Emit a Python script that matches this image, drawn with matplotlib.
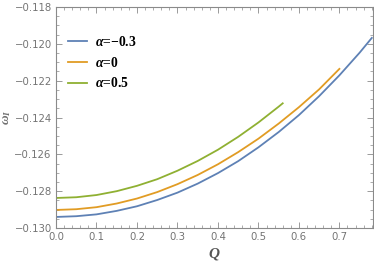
import numpy as np
import matplotlib
matplotlib.use("Agg")
import matplotlib.pyplot as plt
from matplotlib.ticker import MultipleLocator, FuncFormatter

Q_blue = [0.00, 0.05, 0.10, 0.15, 0.20, 0.25, 0.30, 0.35, 0.40, 0.45, 0.50, 0.55, 0.60, 0.65, 0.70, 0.75, 0.78]
w_blue = [-0.12940, -0.12936, -0.12926, -0.12907, -0.12882, -0.12848, -0.12808, -0.12759, -0.12702,
          -0.12637, -0.12562, -0.12479, -0.12387, -0.12284, -0.12171, -0.12048, -0.11968]

Q_orange = [0.00, 0.05, 0.10, 0.15, 0.20, 0.25, 0.30, 0.35, 0.40, 0.45, 0.50, 0.55, 0.60, 0.65, 0.70]
w_orange = [-0.12902, -0.12898, -0.12887, -0.12867, -0.12840, -0.12805, -0.12762, -0.12712, -0.12654,
            -0.12588, -0.12515, -0.12433, -0.12344, -0.12247, -0.12136]

Q_green = [0.00, 0.05, 0.10, 0.15, 0.20, 0.25, 0.30, 0.35, 0.40, 0.45, 0.50, 0.55, 0.56]
w_green = [-0.12837, -0.12833, -0.12821, -0.12800, -0.12771, -0.12735, -0.12689, -0.12636, -0.12575,
           -0.12505, -0.12427, -0.12341, -0.12323]

labels = [r"$\alpha$=−0.3", r"$\alpha$=0", r"$\alpha$=0.5"]
colors = ["#5E81B5", "#E19C24", "#8FB032"]

plt.rcParams['mathtext.fontset'] = 'custom'
plt.rcParams['mathtext.it'] = 'Liberation Serif:italic:bold'
plt.rcParams['mathtext.rm'] = 'Liberation Serif:bold'

fig = plt.figure(figsize=(3.74, 2.65), dpi=100)
ax = fig.add_axes([56/374, 1-228/265, (373-56)/374, (228-7)/265])

for Q, w, lab, c in zip([Q_blue, Q_orange, Q_green], [w_blue, w_orange, w_green], labels, colors):
    ax.plot(Q, w, color=c, lw=1.3, label=lab)

ax.set_xlim(0, 0.783)
ax.set_ylim(-0.130, -0.118)
ax.xaxis.set_major_locator(MultipleLocator(0.1))
ax.xaxis.set_minor_locator(MultipleLocator(0.02))
ax.yaxis.set_major_locator(MultipleLocator(0.002))
ax.yaxis.set_minor_locator(MultipleLocator(0.0005))
ax.xaxis.set_major_formatter(FuncFormatter(lambda v, p: f"{v:.1f}"))
ax.yaxis.set_major_formatter(FuncFormatter(lambda v, p: f"{v:.3f}".replace("-", "−")))

gray = "#8a8a8a"
for s in ax.spines.values():
    s.set_color(gray)
    s.set_linewidth(0.8)
ax.tick_params(which='both', direction='in', top=True, right=True, colors=gray,
               labelcolor="#737373", labelsize=7.3)
ax.tick_params(which='major', length=4, width=0.6, pad=3)
ax.tick_params(which='minor', length=2, width=0.5)

ax.set_xlabel(r"$Q$", fontsize=11, color="#555555", labelpad=3)
ax.set_ylabel(r"$\omega_I$", fontsize=9.5, color="#707070", labelpad=1)

leg = ax.legend(loc='upper left', bbox_to_anchor=(0.0, 0.93), frameon=False,
                prop={'family': 'Liberation Serif', 'weight': 'bold', 'size': 9.8},
                handlelength=1.4, labelspacing=0.5, handletextpad=0.55)

fig.savefig("out.png", dpi=100)
